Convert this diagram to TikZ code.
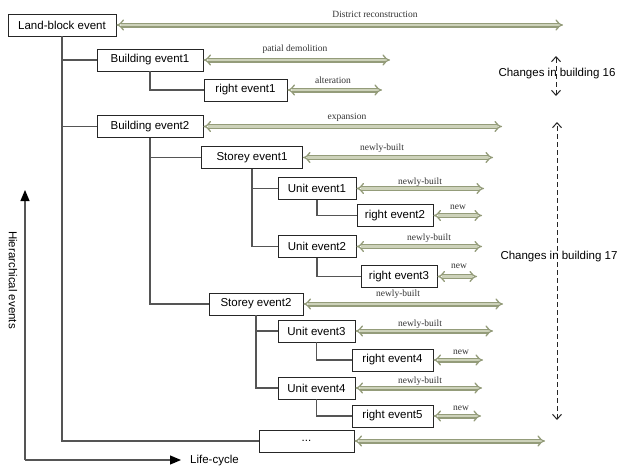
\documentclass[tikz,border=0pt]{standalone}
\usepackage{fontspec}
\setmainfont{Liberation Serif}
\setsansfont{Liberation Sans}
\usetikzlibrary{arrows.meta}
\definecolor{arrowdark}{RGB}{148,156,122}
\definecolor{arrowlight}{RGB}{205,210,186}
\definecolor{treeline}{RGB}{85,85,85}
\begin{document}
\begin{tikzpicture}[x=1pt,y=-1pt,
  evbox/.style={draw=black!85, line width=0.9pt, fill=white, inner sep=0pt,
    minimum height=22pt, font=\sffamily\fontsize{11.5}{13}\selectfont},
  tree/.style={draw=treeline, line width=1.3pt},
  lifearrow/.style={draw=arrowdark, double=arrowlight, line width=1.3pt,
    double distance=2.4pt, {Implies[scale=1.5]}-{Implies[scale=1.5]}},
  lbl/.style={font=\rmfamily\fontsize{9.5}{10}\selectfont, text=black!80, inner sep=0pt},
  side/.style={font=\sffamily\fontsize{11.5}{13}\selectfont, inner sep=0pt},
  changes/.style={draw=black!85, line width=0.9pt, dash pattern=on 5pt off 3pt,
    {Straight Barb[length=5pt,width=9pt,line width=1pt]}-{Straight Barb[length=5pt,width=9pt,line width=1pt]}},
  axis/.style={draw=treeline, line width=1.2pt, -{Triangle[length=11pt,width=9pt,color=black]}}]
\useasboundingbox (0,0) rectangle (622,466);

% event boxes
\node[evbox, minimum width=108pt] (land) at (62,25) {Land-block event};
\node[evbox, minimum width=106pt] (b1) at (150,60) {Building event1};
\node[evbox, minimum width=83pt] (r1) at (245.5,90) {right event1};
\node[evbox, minimum width=106pt] (b2) at (150,126.5) {Building event2};
\node[evbox, minimum width=101pt] (s1) at (252,157.5) {Storey event1};
\node[evbox, minimum width=78pt] (u1) at (317,188.5) {Unit event1};
\node[evbox, minimum width=76pt] (r2) at (395,215.5) {right event2};
\node[evbox, minimum width=78pt] (u2) at (317,246.5) {Unit event2};
\node[evbox, minimum width=76pt] (r3) at (399,276.5) {right event3};
\node[evbox, minimum width=94pt] (s2) at (256,304) {Storey event2};
\node[evbox, minimum width=77pt] (u3) at (316.5,331) {Unit event3};
\node[evbox, minimum width=81pt] (r4) at (392.5,360) {right event4};
\node[evbox, minimum width=77pt] (u4) at (316.5,388) {Unit event4};
\node[evbox, minimum width=81pt] (r5) at (392.5,416) {right event5};
\node[evbox, minimum width=95pt] (dots) at (306.5,441) {...};

% tree connectors (each trunk drawn once, branches from the trunk)
\draw[tree] (land.south) |- (dots.west);
\draw[tree] (land.south |- b1.west) -- (b1.west);
\draw[tree] (land.south |- b2.west) -- (b2.west);
\draw[tree] (b1.south) |- (r1.west);
\draw[tree] (b2.south) |- (s2.west);
\draw[tree] (b2.south |- s1.west) -- (s1.west);
\draw[tree] (s1.south) |- (u2.west);
\draw[tree] (s1.south |- u1.west) -- (u1.west);
\draw[tree] (u1.south) |- (r2.west);
\draw[tree] (u2.south) |- (r3.west);
\draw[tree] (s2.south) |- (u4.west);
\draw[tree] (s2.south |- u3.west) -- (u3.west);
\draw[tree] (u3.south) |- (r4.west);
\draw[tree] (u4.south) |- (r5.west);

% life-cycle arrow ends
\coordinate (eland) at (563,25);
\coordinate (eb1) at (390,60);
\coordinate (er1) at (382,90);
\coordinate (eb2) at (502,126.5);
\coordinate (es1) at (493,157.5);
\coordinate (eu1) at (484,188.5);
\coordinate (er2) at (482,215.5);
\coordinate (eu2) at (482,246.5);
\coordinate (er3) at (477,276.5);
\coordinate (es2) at (503,304);
\coordinate (eu3) at (493,331);
\coordinate (er4) at (483,360);
\coordinate (eu4) at (482,388);
\coordinate (er5) at (481,416);
\coordinate (edots) at (545,441);

\foreach \n in {land,b1,r1,b2,s1,u1,r2,u2,r3,s2,u3,r4,u4,r5,dots}
  \draw[lifearrow] (\n.east) -- (e\n);

% labels
\node[lbl] (ldist) at (375,14) {District reconstruction};
\node[lbl] (lb1) at (295,49) {patial demolition};
\node[lbl] (lr1) at (333,80) {alteration};
\node[lbl] (lb2) at (347,117) {expansion};
\node[lbl] (ls1) at (382,148) {newly-built};
\node[lbl] (lu1) at (420,182) {newly-built};
\node[lbl] (lr2) at (458,207) {new};
\node[lbl] (lu2) at (429,238) {newly-built};
\node[lbl] (lr3) at (459,266) {new};
\node[lbl] (ls2) at (398,294) {newly-built};
\node[lbl] (lu3) at (420,324) {newly-built};
\node[lbl] (lr4) at (461,352) {new};
\node[lbl] (lu4) at (420,381) {newly-built};
\node[lbl] (lr5) at (461,408) {new};

% changes in building
\coordinate (c16t) at (556,56);
\coordinate (c16b) at (556,96);
\draw[changes] (c16b) -- (c16t);
\node[side] (t16) at (557,74) {Changes in building 16};
\coordinate (c17t) at (557,122);
\coordinate (c17b) at (557,420);
\draw[changes] (c17b) -- (c17t);
\node[side] (t17) at (559,257) {Changes in building 17};

% axes
\coordinate (origin) at (25,460);
\coordinate (ytip) at (25,190);
\coordinate (xtip) at (181,460);
\draw[axis] (origin) -- (ytip);
\draw[axis] (origin) -- (xtip);
\node[side, anchor=west] (lc) at (190,461) {Life-cycle};
\node[side, rotate=-90] (he) at (13,280) {Hierarchical events};
\end{tikzpicture}
\end{document}
